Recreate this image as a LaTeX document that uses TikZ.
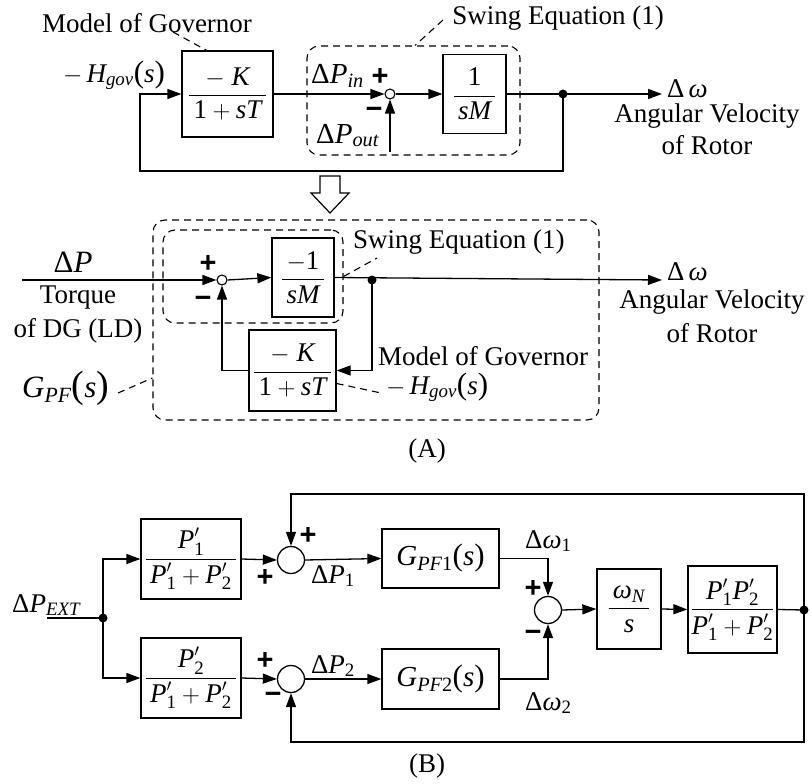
\documentclass[tikz,border=0pt]{standalone}
\usepackage{amsmath}
\usepackage{fontspec}
\setmainfont{Liberation Serif}
\newfontfamily\signfont{Liberation Sans}
\newcommand{\vi}[1]{\text{\itshape #1}}
\newcommand{\vu}[1]{\text{\upshape #1}}
\newcommand{\bigpar}[1]{\text{\upshape\fontsize{31}{31}\selectfont #1}}
\usetikzlibrary{arrows.meta}
\begin{document}
\begin{tikzpicture}[x=1pt,y=-1pt,
  every node/.style={font=\fontsize{27}{32}\selectfont, inner sep=1pt},
  biglab/.style={font=\fontsize{31}{34}\selectfont},
  midlab/.style={font=\fontsize{29}{32}\selectfont},
  ln/.style={line width=1.3pt},
  arr/.style={ln, -{Triangle[length=14pt,width=10pt]}},
  blk/.style={draw, line width=1.3pt, inner sep=0pt},
  dashbox/.style={draw, line width=1.1pt, dash pattern=on 7pt off 5pt, rounded corners=12pt, inner sep=0pt},
  lead/.style={line width=1.1pt, dash pattern=on 7pt off 5pt},
  sumsm/.style={draw, circle, line width=1.1pt, fill=white, inner sep=0pt, minimum size=10pt},
  sumbig/.style={draw, circle, line width=1.3pt, inner sep=0pt, minimum size=27pt},
  dotn/.style={circle, fill, inner sep=0pt, minimum size=9pt},
  sign/.style={font=\signfont\bfseries\fontsize{29}{29}\selectfont, inner sep=0pt}
]
\useasboundingbox (0,0) rectangle (811,784);

% ================= Part A, top =================
\node[dashbox, minimum width=213pt, minimum height=109pt] (sw1) at (413.5,100.5) {};
\node[blk, minimum width=91pt, minimum height=86pt] (b1) at (227.5,94) {$\dfrac{-\;\vi{K}}{\,\vu{1}+\vi{sT}\,}$};
\node[sumsm] (s1) at (390,94) {};
\node[blk, minimum width=63pt, minimum height=79pt] (b2) at (474.5,94) {$\dfrac{\vu{1}}{\,\vi{sM}\,}$};
\node[dotn] (d1) at (563,94) {};
\coordinate (out1) at (662,94);
\coordinate (fb1) at (140,171);
\coordinate (pout) at (390,152);

\draw[arr] (b1.east) -- (s1.west);
\draw[arr] (s1.east) -- (b2.west);
\draw[arr] (b2.east) -- (out1);
\draw[arr] (d1.center) |- (fb1) |- (b1.west);
\draw[arr] (pout) -- (s1.south);

\node[anchor=base] (tmog1) at (147,33) {Model of Governor};
\coordinate (lmog1) at (173,32);
\draw[lead] (lmog1) -- ([xshift=-21pt]b1.north);
\node[anchor=base, inner sep=0pt] (hg1) at (114,82) {$-\,\vi{H}_{\vi{gov}}\bigpar{(}\vi{s}\bigpar{)}$};
\node[anchor=base west, midlab] (pin) at (310,83) {$\vu{Δ}\vi{P}_{\vi{in}}$};
\node[anchor=base west, midlab] (pouttxt) at (315,143) {$\vu{Δ}\vi{P}_{\vi{out}}$};
\node[sign] (pl1) at (380,77) {+};
\node[sign] (mi1) at (374,113) {−};
\node[anchor=base west, inner sep=0pt] (w1) at (667,97) {$\vu{Δ}\,\vi{ω}$};
\node[anchor=base, inner sep=0pt] (av1) at (707,122) {Angular Velocity};
\node[anchor=base] (or1) at (707,154) {of Rotor};
\node[anchor=base] (tsw1) at (558,25) {Swing Equation (1)};
\coordinate (lsw1) at (443,20);
\draw[lead] (lsw1) -- ([xshift=1.5pt]sw1.north);

% hollow arrow
\draw[line width=1.2pt, fill=white] (320,176) -- (340,176) -- (340,193) -- (349,193) -- (330,213) -- (311,193) -- (320,193) -- cycle;

% ================= Part A, bottom =================
\node[dashbox, minimum width=446pt, minimum height=200pt] (gpf) at (376,320) {};
\node[dashbox, minimum width=180pt, minimum height=93pt] (sw2) at (253,276.5) {};
\node[sumsm] (s2) at (222,280) {};
\node[blk, minimum width=62pt, minimum height=79pt] (b3) at (303,277.5) {$\dfrac{-\vu{1}}{\,\vi{sM}\,}$};
\node[dotn] (d2) at (372,280) {};
\node[blk, minimum width=87pt, minimum height=81pt] (b4) at (292.5,370.5) {$\dfrac{-\;\vi{K}}{\,\vu{1}+\vi{sT}\,}$};
\coordinate (in2) at (22,280);
\coordinate (out2) at (662,280);

\draw[arr] (in2) -- (s2.west);
\draw[arr] (s2.east) -- (b3.west);
\draw[arr] (b3.east) -- (out2);
\draw[arr] (d2.center) |- (b4.east);
\draw[arr] (b4.west) -| (s2.south);

\node[anchor=base, biglab] (dp2) at (73,272) {$\vu{Δ}\vi{P}$};
\node[anchor=base] (tq) at (78,303) {Torque};
\node[anchor=base] (dg) at (78,337) {of DG (LD)};
\node[sign] (pl2) at (208,264) {+};
\node[sign] (mi2) at (203,302) {−};
\node[anchor=base west] (tsw2) at (352,248) {Swing Equation (1)};
\coordinate (lsw2) at (377,258);
\draw[lead] (sw2.east) -- (lsw2);
\node[anchor=base west, inner sep=0pt] (w2) at (667,280) {$\vu{Δ}\,\vi{ω}$};
\node[anchor=base, inner sep=0pt] (av2) at (712,308) {Angular Velocity};
\node[anchor=base] (or2) at (712,342) {of Rotor};
\node[anchor=base west, inner sep=0pt] (tmog2) at (378,365) {Model of Governor};
\node[anchor=base west, inner sep=0pt] (hg2) at (386,394) {$-\,\vi{H}_{\vi{gov}}\bigpar{(}\vi{s}\bigpar{)}$};
\coordinate (lhg2) at (381,393);
\draw[lead] ([yshift=-13pt]b4.east) -- (lhg2);
\node[anchor=base west, inner sep=0pt, biglab] (gpftxt) at (22,397) {$\vi{G}_{\vi{PF}}\text{\upshape\fontsize{38}{38}\selectfont(}\vi{s}\text{\upshape\fontsize{38}{38}\selectfont)}$};
\coordinate (lgpf) at (118,393);
\draw[lead] (lgpf) -- ([yshift=-58pt]gpf.west);
\node[anchor=base] (capA) at (427,457) {(A)};

% ================= Part B =================
\coordinate (in3) at (47,618);
\node[dotn] (d3) at (103,618) {};
\node[blk, minimum width=100pt, minimum height=80pt] (bp1) at (191,559) {$\dfrac{\vi{P}_{\vu{1}}^{\prime}}{\,\vi{P}_{\vu{1}}^{\prime}+\vi{P}_{\vu{2}}^{\prime}\,}$};
\node[blk, minimum width=100pt, minimum height=80pt] (bp2) at (191,678) {$\dfrac{\vi{P}_{\vu{2}}^{\prime}}{\,\vi{P}_{\vu{1}}^{\prime}+\vi{P}_{\vu{2}}^{\prime}\,}$};
\node[sumbig] (c1) at (291,560) {};
\node[sumbig] (c2) at (291,679) {};
\node[blk, minimum width=117pt, minimum height=59pt, midlab] (g1) at (440.5,558.5) {$\vi{G}_{\vi{PF}\vu{1}}\bigpar{(}\vi{s}\bigpar{)}$};
\node[blk, minimum width=117pt, minimum height=60pt, midlab] (g2) at (440.5,679) {$\vi{G}_{\vi{PF}\vu{2}}\bigpar{(}\vi{s}\bigpar{)}$};
\node[sumbig] (c3) at (548,610) {};
\node[blk, minimum width=64pt, minimum height=80pt] (bw) at (629,609) {$\dfrac{\,\vi{ω}_{\vi{N}}\,}{\vi{s}}$};
\node[blk, minimum width=89pt, minimum height=87pt] (bk) at (732.5,609.5) {$\dfrac{\vi{P}_{\vu{1}}^{\prime}\vi{P}_{\vu{2}}^{\prime}}{\vi{P}_{\vu{1}}^{\prime}+\vi{P}_{\vu{2}}^{\prime}}$};
\node[dotn] (d4) at (804,610) {};
\coordinate (ft) at (291,494);
\coordinate (fb) at (291,742);

\draw[ln] (in3) -- (d3.center);
\draw[arr] (d3.center) |- (bp1.west);
\draw[arr] (d3.center) |- (bp2.west);
\draw[arr] (bp1.east) -- (c1.west);
\draw[arr] (bp2.east) -- (c2.west);
\draw[arr] (c1.east) -- (g1.west);
\draw[arr] (c2.east) -- (g2.west);
\draw[arr] (g1.east) -| (c3.north);
\draw[arr] (g2.east) -| (c3.south);
\draw[arr] (c3.east) -- (bw.west);
\draw[arr] (bw.east) -- (bk.west);
\draw[ln] (bk.east) -- (d4.center);
\draw[arr] (d4.center) |- (ft) -- (c1.north);
\draw[arr] (d4.center) |- (fb) -- (c2.south);

\node[anchor=base west] (pext) at (11,612) {$\vu{Δ}\vi{P}_{\vi{EXT}}$};
\node[sign] (pl3) at (308,536) {+};
\node[sign] (pl4) at (265,578) {+};
\node[sign] (pl5) at (265,661) {+};
\node[sign] (mi5) at (273,698) {−};
\node[sign] (pl6) at (533,589) {+};
\node[sign] (mi6) at (533,636) {−};
\node[anchor=base] (dp1) at (333,583) {$\vu{Δ}\vi{P}_{\vu{1}}$};
\node[anchor=base] (dpb2) at (333,673) {$\vu{Δ}\vi{P}_{\vu{2}}$};
\node[anchor=base west] (dw1) at (524,548) {$\vu{Δ}\vi{ω}_{\vu{1}}$};
\node[anchor=base west] (dw2) at (524,710) {$\vu{Δ}\vi{ω}_{\vu{2}}$};
\node[anchor=base] (capB) at (427,772) {(B)};
\end{tikzpicture}
\end{document}
